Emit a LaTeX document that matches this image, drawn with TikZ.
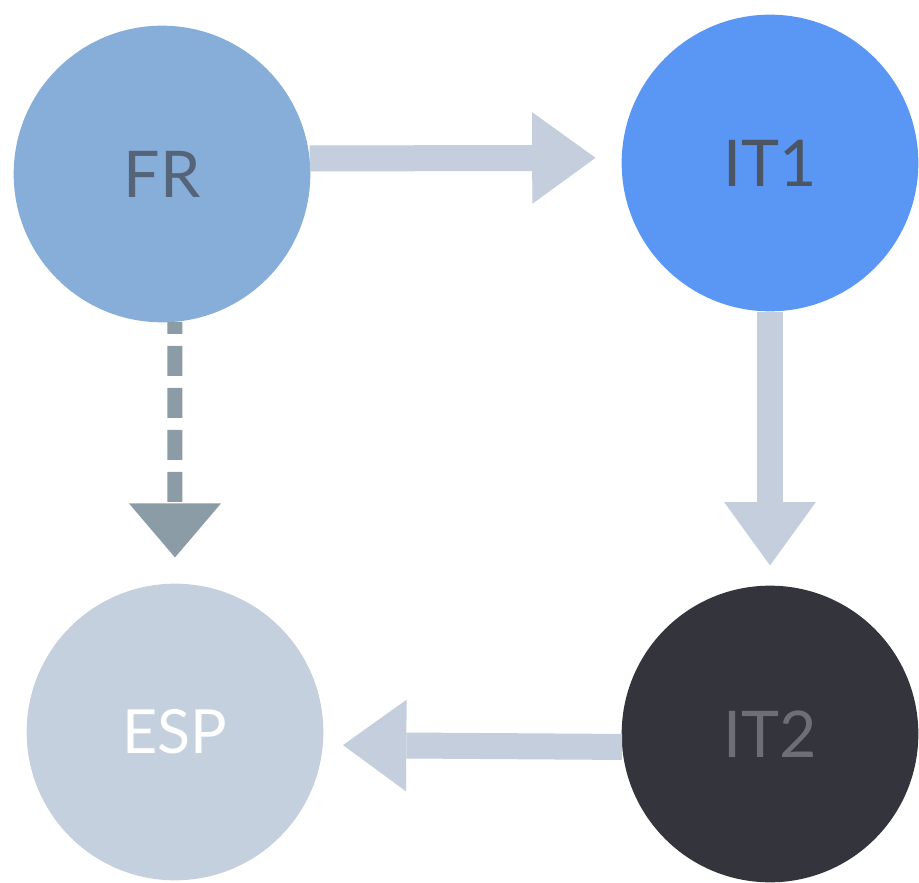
\documentclass[tikz,border=0pt]{standalone}
\usepackage{fontspec}
\setmainfont{Lato}
\usetikzlibrary{arrows.meta}
\definecolor{frblue}{HTML}{87ADD9}
\definecolor{itblue}{HTML}{5A96F4}
\definecolor{espgray}{HTML}{C5D0DE}
\definecolor{itdark}{HTML}{33343C}
\definecolor{flowgray}{HTML}{C4CEDC}
\definecolor{dashgray}{HTML}{8C9CA6}
\definecolor{frtext}{HTML}{556478}
\definecolor{ittext}{HTML}{4B5564}
\definecolor{ittwotext}{HTML}{6E6F75}
\tikzset{
  country/.style = {circle, minimum size=8.9cm, inner sep=0pt, font=\fontsize{55}{60}\selectfont},
  flow/.style = {draw=flowgray, line width=0.78cm,
    -{Triangle[length=1.9cm,width=2.75cm,line width=0pt]}},
  maybe/.style = {draw=dashgray, line width=0.45cm,
    dash pattern=on 0.9cm off 0.36cm, dash phase=0.54cm,
    -{Triangle[length=1.62cm,width=2.76cm,line width=0pt]}}
}

\begin{document}
\begin{tikzpicture}
  \useasboundingbox (0,0) rectangle (27.57,26.46);
  % countries
  \node (FR) at (4.86,21.24) [country, fill=frblue, text=frtext] {FR};
  \node (IT1) at (23.10,21.57) [country, fill=itblue, text=ittext] {IT1};
  \node (ESP) at (5.25,4.50) [country, fill=espgray, text=white, font=\fontsize{52}{58}\selectfont] {ESP};
  \node (IT2) at (23.10,4.44) [country, fill=itdark, text=ittwotext] {IT2};
  % flows
  \draw[flow, shorten >=0.78cm] (FR.6) -- (IT1.178);
  \draw[flow, shorten >=0.6cm] (IT1.south) -- (IT2.north);
  \draw[flow, shorten >=0.6cm] (IT2.185) -- (ESP.-5);
  % maybe
  \draw[maybe, shorten >=0.78cm] (FR.-85) -- (ESP.north);
\end{tikzpicture}
\end{document}
